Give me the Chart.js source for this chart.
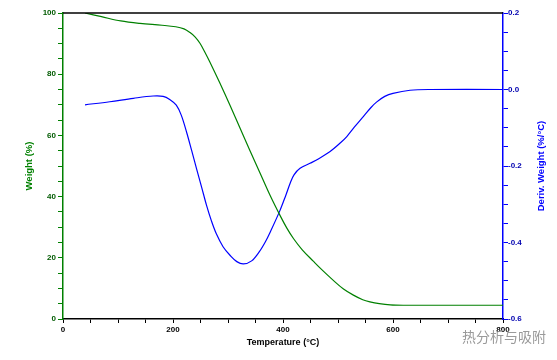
<!DOCTYPE html>
<html>
<head>
<meta charset="utf-8">
<script src="https://cdn.jsdelivr.net/npm/chart.js@4.4.0/dist/chart.umd.min.js"></script>
<style>
body { margin: 0; background: #fff; }
#wrap { position: relative; width: 557px; height: 360px; }
#mark { position: absolute; left: 462px; top: 326px; font: 14px "Noto Sans CJK SC"; color: #9a9a9a; }
</style>
</head>
<body>
<div id="wrap">
<canvas id="myChart" width="557" height="360"></canvas>
<div id="mark">热分析与吸附</div>
</div>
<script>
// weight curve (%)
const weightTemps = [40, 70, 105, 140, 180, 205, 220, 231, 240, 249, 258, 267, 285, 304, 322, 340, 358, 376, 395, 407, 419, 435, 455, 470, 491, 510, 528, 545, 558, 575, 595, 620, 800];
const weightVals = [100, 98.8, 97.4, 96.6, 96.0, 95.5, 94.8, 93.6, 92.2, 90.1, 87.2, 84.0, 77.2, 69.7, 62.3, 55.0, 47.8, 40.6, 33.7, 29.7, 26.3, 22.6, 18.9, 16.2, 12.7, 9.8, 7.8, 6.3, 5.6, 5.0, 4.6, 4.5, 4.5];

// derivative weight (%/°C)
const derivTemps = [40, 85, 128, 164, 182, 194, 206, 215, 225, 234, 243, 252, 261, 270, 279, 291, 304, 316, 328, 343, 357, 368, 376, 394, 405, 413, 420, 431, 449, 465, 485, 504, 516, 530, 546, 560, 570, 585, 600, 631, 667, 800];
const derivVals = [-0.040, -0.032, -0.023, -0.017, -0.018, -0.026, -0.041, -0.067, -0.113, -0.160, -0.208, -0.255, -0.303, -0.344, -0.378, -0.411, -0.434, -0.450, -0.456, -0.448, -0.424, -0.398, -0.375, -0.318, -0.277, -0.245, -0.223, -0.206, -0.193, -0.181, -0.163, -0.140, -0.123, -0.098, -0.071, -0.047, -0.033, -0.018, -0.010, -0.002, 0, 0];

const greenCol = '#008000';
const blueCol = '#0000ff';
const tickFont = { family: 'Liberation Sans', size: 8, weight: 'bold' };

const weightPts = weightTemps.map((t, i) => ({ x: t, y: weightVals[i] }));
const derivPts = derivTemps.map((t, i) => ({ x: t, y: derivVals[i] }));

// black line along the top of the plot + right axis title (reads bottom to top)
const extras = {
    id: 'extras',
    afterDraw(chart) {
        const a = chart.chartArea;
        const c = chart.ctx;
        c.save();
        c.strokeStyle = '#000';
        c.lineWidth = 1.5;
        c.beginPath();
        c.moveTo(a.left, a.top);
        c.lineTo(a.right, a.top);
        c.stroke();

        c.translate(541, (a.top + a.bottom) / 2);
        c.rotate(-Math.PI / 2);
        c.fillStyle = blueCol;
        c.font = 'bold 9.5px "Liberation Sans"';
        c.textAlign = 'center';
        c.textBaseline = 'middle';
        c.fillText('Deriv. Weight (%/°C)', 0, 0);
        c.restore();
    }
};

var ctx = document.getElementById('myChart').getContext('2d');

var myChart = new Chart(ctx, {
    type: 'line',
    data: {
        datasets: [
            {
                label: 'Weight',
                data: weightPts,
                yAxisID: 'y',
                borderColor: greenCol,
                borderWidth: 1.2,
                pointRadius: 0,
                tension: 0.35
            },
            {
                label: 'Deriv. Weight',
                data: derivPts,
                yAxisID: 'y1',
                borderColor: blueCol,
                borderWidth: 1.2,
                pointRadius: 0,
                tension: 0.35
            }
        ]
    },
    plugins: [extras],
    options: {
        responsive: false,
        animation: false,
        layout: { padding: { top: 13 } },
        plugins: {
            legend: { display: false },
            tooltip: { enabled: false }
        },
        scales: {
            x: {
                type: 'linear',
                min: 0,
                max: 800,
                afterFit: (s) => { s.height = 41; },
                border: { color: '#000', width: 1.5 },
                grid: { drawOnChartArea: false, color: '#000', tickLength: 4 },
                ticks: {
                    stepSize: 50,
                    maxRotation: 0,
                    autoSkip: false,
                    padding: 2,
                    color: '#000',
                    font: tickFont,
                    callback: (v) => (v % 200 === 0 ? v : '')
                },
                title: {
                    display: true,
                    text: 'Temperature (°C)',
                    color: '#000',
                    font: { family: 'Liberation Sans', size: 9, weight: 'bold' },
                    padding: { bottom: 12 }
                }
            },
            y: {
                position: 'left',
                min: 0,
                max: 100,
                afterFit: (s) => { s.width = 63; },
                border: { color: greenCol, width: 1.5 },
                grid: { drawOnChartArea: false, color: greenCol, tickLength: 5 },
                ticks: {
                    stepSize: 5,
                    autoSkip: false,
                    padding: 2,
                    color: '#005a00',
                    font: tickFont,
                    callback: (v) => (v % 20 === 0 ? v : '')
                },
                title: {
                    display: true,
                    text: 'Weight (%)',
                    color: greenCol,
                    font: { family: 'Liberation Sans', size: 9.5, weight: 'bold' },
                    padding: { top: 24 }
                }
            },
            y1: {
                position: 'right',
                min: -0.6,
                max: 0.2,
                afterFit: (s) => { s.width = 54; },
                border: { color: blueCol, width: 1.5 },
                grid: { drawOnChartArea: false, color: blueCol, tickLength: 5 },
                ticks: {
                    stepSize: 0.05,
                    autoSkip: false,
                    padding: 0,
                    color: '#0000b0',
                    font: tickFont,
                    callback: (v) => (Math.round(v * 100) % 20 === 0 ? v.toFixed(1) : '')
                },
                title: { display: false }
            }
        }
    }
});
</script>
</body>
</html>
